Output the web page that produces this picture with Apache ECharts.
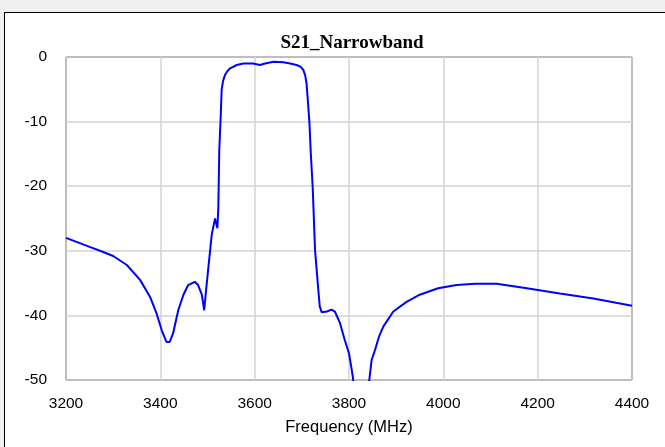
<!DOCTYPE html>
<html>
<head>
<meta charset="utf-8">
<script src="https://cdn.jsdelivr.net/npm/echarts@6/dist/echarts.min.js"></script>
<style>
html,body{margin:0;padding:0;background:#f0f0f0;overflow:hidden;}
#frame{position:absolute;left:4px;top:12px;width:700px;height:500px;border:1px solid #000;background:#fff;}
#chart{position:absolute;left:0;top:0;width:665px;height:447px;}
</style>
</head>
<body>
<div id="frame"></div>
<div id="chart"></div>
<script>
const freqs = [3200,3250,3272,3300,3329,3357,3378,3392,3403,3413,3420,3427,3438,3449,3459,3473,3480,3488,3493,3497,3502,3509,3516,3521,3523,3525,3528,3530,3533,3537,3542,3548,3562,3576,3597,3611,3622,3640,3661,3675,3689,3697,3703,3707,3710,3713,3716,3719,3723,3728,3735,3738,3742,3753,3763,3770,3781,3791,3800,3806,3809,3815,3838,3843,3848,3855,3864,3873,3894,3922,3950,3989,4028,4067,4113,4177,4247,4318,4400];
const s21 = [-28.0,-29.4,-30.0,-30.8,-32.2,-34.5,-37.1,-39.7,-42.3,-44.1,-44.1,-42.8,-39.2,-36.8,-35.3,-34.8,-35.3,-36.8,-39.2,-36.1,-32.5,-27.5,-25.0,-26.5,-23.2,-14.4,-9.2,-5.1,-3.7,-2.8,-2.2,-1.75,-1.24,-1.0,-1.0,-1.24,-1.0,-0.72,-0.8,-1.0,-1.24,-1.5,-2.0,-2.8,-4.1,-7.0,-10.0,-14.9,-20.1,-29.9,-36.1,-38.6,-39.5,-39.4,-39.1,-39.4,-41.2,-43.8,-45.9,-48.5,-50.0,-54,-54,-50.0,-46.9,-45.4,-43.2,-41.7,-39.4,-37.9,-36.8,-35.8,-35.3,-35.1,-35.1,-35.8,-36.6,-37.4,-38.5];
const xTicks = [3200,3400,3600,3800,4000,4200,4400];
const yTicks = [0,-10,-20,-30,-40,-50];

const chart = echarts.init(document.getElementById('chart'), null, {renderer:'canvas'});
chart.setOption({
  backgroundColor:'transparent',
  animation:false,
  title:{text:'S21_Narrowband',left:347,top:29,textAlign:'center',
    textStyle:{fontFamily:'Liberation Serif',fontWeight:'bold',fontSize:19,color:'#000'}},
  grid:{left:66,right:33,top:57,bottom:67,show:true,borderColor:'#000',borderWidth:1,backgroundColor:'#fff'},
  xAxis:{type:'value',min:3200,max:4400,interval:200,
    name:'Frequency (MHz)',nameLocation:'middle',nameGap:39,
    nameTextStyle:{fontFamily:'Liberation Sans',fontSize:16.5,color:'#000'},
    axisLine:{show:false},axisTick:{show:false},
    axisLabel:{margin:16,fontFamily:'Liberation Sans',fontSize:15.5,color:'#000',
      formatter:v=>xTicks.includes(v)?String(v):''},
    splitLine:{show:true,lineStyle:{color:'#d3d3d3',width:1.5}}},
  yAxis:{type:'value',min:-50,max:0,interval:10,
    axisLine:{show:false},axisTick:{show:false},
    axisLabel:{margin:19,fontFamily:'Liberation Sans',fontSize:15.5,color:'#000',
      formatter:v=>yTicks.includes(v)?String(v):''},
    splitLine:{show:true,lineStyle:{color:'#d3d3d3',width:1.5}}},
  series:[{type:'line',data:freqs.map((f,i)=>[f,s21[i]]),showSymbol:false,clip:true,
    lineStyle:{color:'#0000ff',width:2},itemStyle:{color:'#0000ff'}}]
});
</script>
</body>
</html>
